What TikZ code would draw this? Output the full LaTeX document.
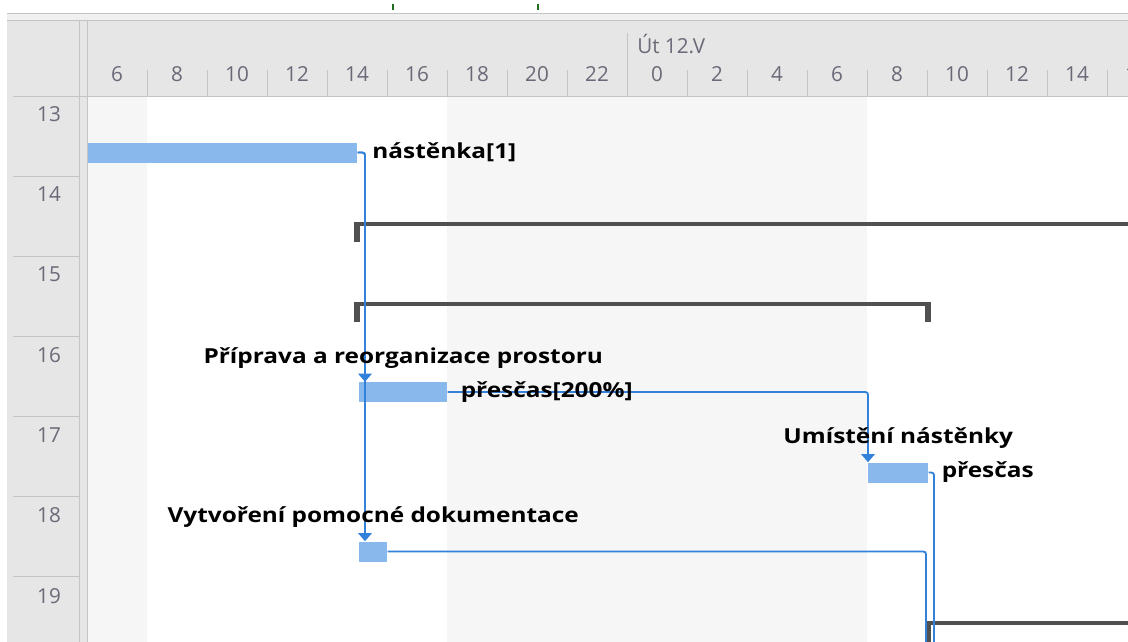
\documentclass[tikz,border=0pt]{standalone}
\usepackage{fontspec}
\setmainfont{Open Sans}
\newfontfamily\lblfont{Open Sans}[FakeStretch=1.18]
\usetikzlibrary{positioning,arrows.meta}
\definecolor{hdrgray}{HTML}{E6E6E6}
\definecolor{offgray}{HTML}{F6F6F6}
\definecolor{linegray}{HTML}{C4C4C4}
\definecolor{txtgray}{HTML}{6A6A78}
\definecolor{barblue}{HTML}{88B8EC}
\definecolor{linkblue}{HTML}{3282DC}
\definecolor{sumgray}{HTML}{505050}
\definecolor{tickgreen}{HTML}{1E6E1E}
\tikzset{
  taskbar/.style={fill=barblue, inner sep=0pt, minimum height=15pt, anchor=west},
  tasklabel/.style={font=\lblfont\fontsize{15.5}{18}\selectfont\bfseries, inner sep=0pt},
  hourlbl/.style={font=\fontsize{15.5}{17}\selectfont, text=txtgray, inner sep=0pt},
  link/.style={draw=linkblue, line width=1.4pt, rounded corners=2pt},
  linkarr/.style={link, -{Triangle[width=10pt,length=6pt]}}
}
\begin{document}
\begin{tikzpicture}[x=0.75pt,y=-0.75pt]
\useasboundingbox (0,0) rectangle (1128,642);
\fill[white] (0,0) rectangle (1128,642);
\fill[hdrgray!60] (7,13) rectangle (1128,20);
\draw[linegray] (7,13) -- (1128,13);
\fill[hdrgray] (7,20) rectangle (1128,96);
\fill[hdrgray] (7,96) rectangle (87,642);
\draw[linegray] (7,20) -- (1128,20);
\draw[tickgreen, line width=1.5pt] (393,4) -- (393,10);
\draw[tickgreen, line width=1.5pt] (538,4) -- (538,10);
\fill[offgray] (88,97) rectangle (147,642);
\fill[offgray] (447,97) rectangle (867,642);
\draw[linegray] (79,20) -- (79,642);
\draw[linegray] (87,20) -- (87,642);
\foreach \x in {147,207,...,1107}
  \draw[linegray] (\x,70) -- (\x,96);
\draw[linegray] (627,33) -- (627,96);
\draw[linegray] (13,96) -- (1128,96);
\foreach \h [count=\i from 0] in {6,8,...,22,0,2,...,16}
  \node[hourlbl] (h\i) at ({117+60*\i},74) {\h};
\node[hourlbl, anchor=west] (day) at (637,44) {Út 12.V};
\foreach \r [count=\i from 0] in {13,...,19}
  \node[hourlbl] (r\r) at (49,{114+80.3*\i}) {\r};
\foreach \i in {0,...,5}
  \draw[linegray] (13,{176+80.1*\i}) -- (79,{176+80.1*\i});

\begin{scope}[sumgray]
  \fill (354,222) rectangle (1135,226);
  \fill (354,222) rectangle (360,242);
  \fill (354,302) rectangle (931,306);
  \fill (354,302) rectangle (360,322);
  \fill (925,302) rectangle (931,322);
  \fill (925,621) rectangle (1135,625);
  \fill (925,621) rectangle (931,650);
\end{scope}

\node[taskbar, minimum width=201.75pt] (b13) at (88,152.5) {};
\node[taskbar, minimum width=66pt] (b16) at (359,392) {};
\node[taskbar, minimum width=45pt] (b17) at (868,472.5) {};
\node[taskbar, minimum width=21pt] (b18) at (359,551.5) {};
\coordinate (c17) at (934,660);
\coordinate (c18) at (926,660);

\draw[linkarr] (b13.east) -| ([xshift=4.5pt]b16.north west);
\draw[linkarr] (b13.east) -| ([xshift=4.5pt]b18.north west);
\draw[linkarr] (b16.east) -| (b17.north west);
\draw[link] (b17.east) -| (c17);
\draw[link] (b18.east) -| (c18);

\node[tasklabel, anchor=west, right=11pt of b13] (n13) {nástěnka[1]};
\node[tasklabel, above=10pt of b16] (t16) {Příprava a reorganizace prostoru};
\node[tasklabel, anchor=west, right=9.75pt of b16] (n16) {přesčas[200\%]};
\node[tasklabel, above=10pt of b17] (t17) {Umístění nástěnky};
\node[tasklabel, anchor=west, right=9.75pt of b17] (n17) {přesčas};
\node[tasklabel, above=10pt of b18] (t18) {Vytvoření pomocné dokumentace};
\end{tikzpicture}
\end{document}
